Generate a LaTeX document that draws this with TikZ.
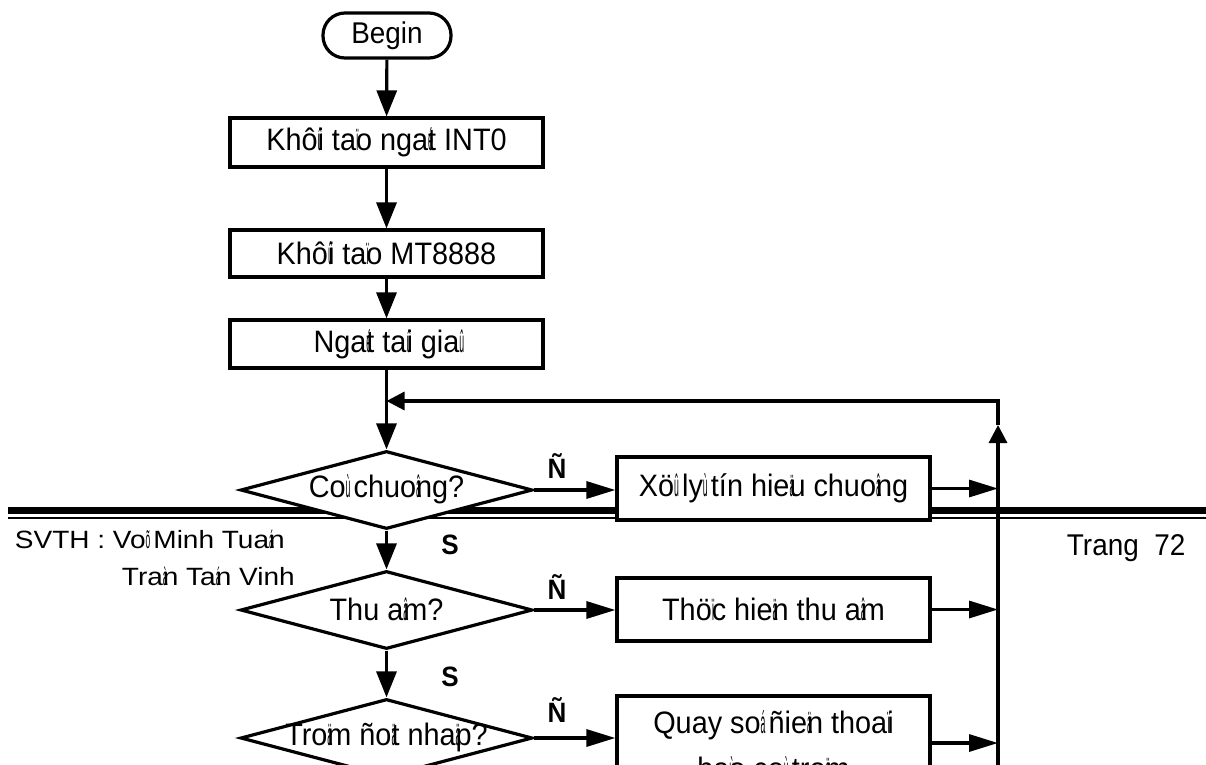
\documentclass[tikz,border=0pt]{standalone}
\usepackage{fontspec}
\usepackage{graphicx}
\setmainfont{Liberation Sans}[FakeStretch=0.93]
\newfontfamily\footfont{Liberation Sans}[FakeStretch=1.12]
\usetikzlibrary{arrows.meta,shapes.geometric}
% narrow accent glyph that takes no room: it is drawn over the next character
\newcommand\zw[1]{\makebox[0pt][l]{\scalebox{0.3}[1]{#1}}}

\begin{document}
\begin{tikzpicture}[x=1pt,y=-1pt,line width=3.2pt,
  every node/.style={font=\fontsize{31}{36}\selectfont},
  procbox/.style={draw,fill=white,rectangle,minimum width=313pt,inner sep=0pt},
  decbox/.style={draw,fill=white,diamond,minimum width=292pt,minimum height=78pt,inner sep=0pt},
  termbox/.style={draw,fill=white,rounded corners=22pt,minimum width=128pt,minimum height=45pt,inner sep=0pt},
  branchlbl/.style={font=\bfseries\fontsize{28}{31}\selectfont},
  foottext/.style={anchor=base west,font=\footfont\fontsize{25}{28}\selectfont},
  arrv/.style={-{Triangle[width=20pt,length=26pt]}},
  arrh/.style={-{Triangle[width=17pt,length=29pt]}},
  arrs/.style={-{Triangle[width=18pt,length=18pt]}},
  ]
\useasboundingbox (0,0) rectangle (1206,764);
\clip (0,0) rectangle (1206,764);

% page rule between header and footer
\draw[line width=6.5pt] (8,510.5) -- (1206,510.5);
\draw[line width=2pt] (8,517.5) -- (1206,517.5);

% main column
\node[termbox,font=\fontsize{30}{34}\selectfont] (begin) at (387,35.5) {Begin};
\node[procbox,minimum height=49pt] (init1) at (386.5,142.5) {Khô\zw{û}i ta\zw{ï}o nga\zw{é}t INT0};
\node[procbox,minimum height=47pt] (init2) at (386.5,253.5) {Khô\zw{û}i ta\zw{ï}o MT8888};
\node[procbox,minimum height=48pt] (fake) at (386.5,344) {Nga\zw{é}t ta\zw{û}i gia\zw{û}};

\node[decbox] (ring) at (386.5,490) {};
\node (ringt) at (386.5,489) {Co\zw{ù} chuo\zw{â}ng?};
\node[decbox] (rectest) at (386.5,610) {};
\node (rectestt) at (386.5,609) {Thu a\zw{â}m?};
\node[decbox] (theft) at (386.5,738) {};
\node (theftt) at (386.5,737) {Tro\zw{ä}m ño\zw{ä}t nha\zw{ä}p?};

% action column
\node[procbox,minimum height=63pt] (proc) at (773.5,488.5) {Xö\zw{û} ly\zw{ù} tín hie\zw{ä}u chuo\zw{â}ng};
\node[procbox,minimum height=63pt] (record) at (773.5,609.5) {Thö\zw{ï}c hie\zw{ä}n thu a\zw{â}m};
\node[procbox,minimum height=94pt] (call) at (773.5,743) {};
\node[anchor=base] (callt1) at (773.5,733) {Quay so\zw{á} ñie\zw{ä}n thoa\zw{ï}i};
\node[anchor=base] (callt2) at (773.5,779) {ba\zw{ù}o co\zw{ù} tro\zw{ä}m};

% footer
\node[foottext] (svth1) at (10,548) {SVTH : Vo\zw{õ} Minh Tua\zw{á}n};
\node[foottext] (svth2) at (117,585) {Tra\zw{à}n Ta\zw{á}n Vinh};
\node[anchor=base west,font=\fontsize{30}{34}\selectfont] (page) at (1062,555) {Trang\ \ 72};

% return bus
\coordinate (busTop) at (998,401);
\coordinate (busMark) at (998,425);
\coordinate (busBot) at (998,800);
\coordinate (joinL) at (386.5,401);

% connectors
\draw[arrv] (begin) -- (init1);
\draw[arrv] (init1) -- (init2);
\draw[arrv] (init2) -- (fake);
\draw[arrv] (fake) -- (ring);
\draw[arrv] (ring) -- (rectest);
\draw[arrv] (rectest) -- (theft);

\draw[arrh] (ring.east) -- (ring.east -| proc.west);
\draw[arrh] (rectest.east) -- (rectest.east -| record.west);
\draw[arrh] (theft.east) -- (theft.east -| call.west);

\draw[arrh] (proc.east) -- (proc.east -| busTop);
\draw[arrh] (record.east) -- (record.east -| busTop);
\draw[arrh] (call.east) -- (call.east -| busTop);

\draw[arrs] (busBot) -- (busMark);
\draw[arrs] (busMark) -- (busTop) -- (joinL);

% branch labels
\node[branchlbl] (yes1) at (557,466) {Ñ};
\node[branchlbl] (yes2) at (557,587) {Ñ};
\node[branchlbl] (yes3) at (557,710) {Ñ};
\node[branchlbl] (no1) at (450,545) {S};
\node[branchlbl] (no2) at (450,677) {S};
\end{tikzpicture}
\end{document}
